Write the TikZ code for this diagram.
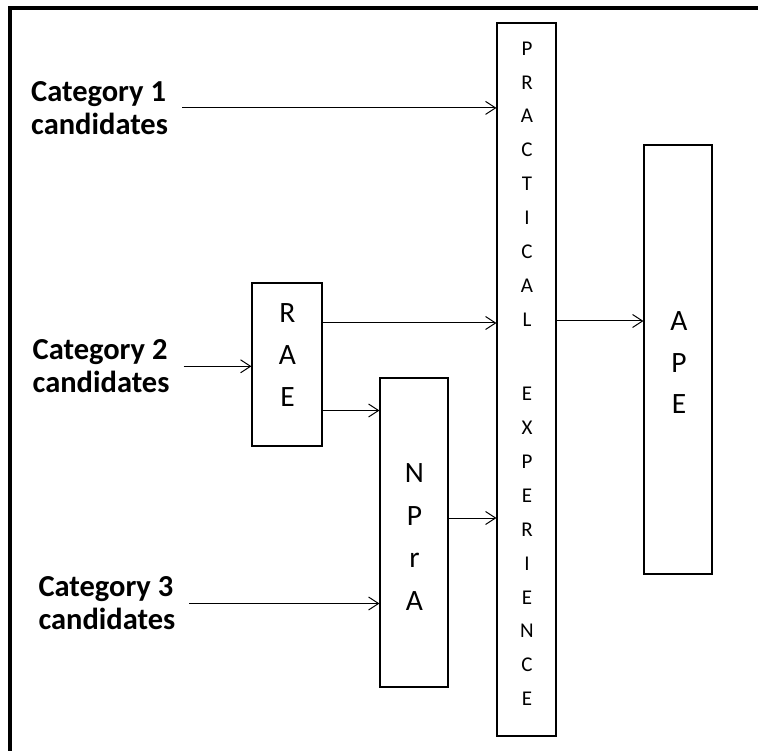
\documentclass[tikz,border=0pt]{standalone}
\usepackage{fontspec}
\setmainfont{Carlito}
\usetikzlibrary{arrows.meta}
\begin{document}
\begin{tikzpicture}[x=1pt,y=-1pt,
    box/.style={draw,line width=1.1pt,inner sep=0pt},
    arr/.style={line width=1pt,-{Straight Barb[length=10pt,width=13pt]}},
    cat/.style={font=\bfseries\fontsize{30.5}{33}\selectfont,align=left,inner sep=0pt,anchor=west},
    small letter/.style={font=\fontsize{21}{24}\selectfont,anchor=base,inner sep=0pt},
    big letter/.style={font=\fontsize{29.5}{32}\selectfont,anchor=base,inner sep=0pt}]
  \useasboundingbox (0,0) rectangle (758,751);
  % frame, only top and left edges are seen
  \draw[line width=4pt] (10,751) -- (10,8) -- (758,8);

  % boxes
  \node[box,minimum width=59pt,minimum height=713pt] (pe) at (526.5,379.5) {};
  \node[box,minimum width=68pt,minimum height=429pt] (ape) at (678,359.5) {};
  \node[box,minimum width=70pt,minimum height=163pt] (rae) at (287,364.5) {};
  \node[box,minimum width=68pt,minimum height=309pt] (npra) at (414,532.5) {};

  % letters
  \foreach \c [count=\i from 0] in {P,R,A,C,T,I,C,A,L}
    \node[small letter] (pe-\i) at (527,{55.2+33.87*\i}) {\c};
  \foreach \c [count=\i from 0] in {E,X,P,E,R,I,E,N,C,E}
    \node[small letter] (pex-\i) at (527,{400.9+33.87*\i}) {\c};
  \foreach \c [count=\i from 0] in {R,A,E}
    \node[big letter] (rae-\i) at (287.5,{322.5+42*\i}) {\c};
  \foreach \c [count=\i from 0] in {A,P,E}
    \node[big letter] (ape-\i) at (679,{331+41.1*\i}) {\c};
  \foreach \c [count=\i from 0] in {N,P,r,A}
    \node[big letter] (npra-\i) at (414.4,{482.4+42.7*\i}) {\c};

  % candidates
  \node[cat] (cat1) at (31,107.9) {Category 1\\candidates};
  \node[cat] (cat2) at (32.5,366.3) {Category 2\\candidates};
  \node[cat] (cat3) at (38.3,603.5) {Category 3\\candidates};

  % arrows
  \draw[arr,shorten <=14pt] (cat1.east) -- (cat1.east -| pe.west);
  \draw[arr,shorten <=14pt] (cat2.east) -- (cat2.east -| rae.west);
  \draw[arr,shorten <=14pt] (cat3.east) -- (cat3.east -| npra.west);
  \draw[arr] ([yshift=41.5pt]rae.east) -- ([yshift=41.5pt]rae.east -| pe.west);
  \draw[arr] ([yshift=-46pt]rae.east) -- ([yshift=-46pt]rae.east -| npra.west);
  \draw[arr] ([yshift=14.5pt]npra.east) -- ([yshift=14.5pt]npra.east -| pe.west);
  \draw[arr] ([yshift=38.5pt]ape.west -| pe.east) -- ([yshift=38.5pt]ape.west);
\end{tikzpicture}
\end{document}
